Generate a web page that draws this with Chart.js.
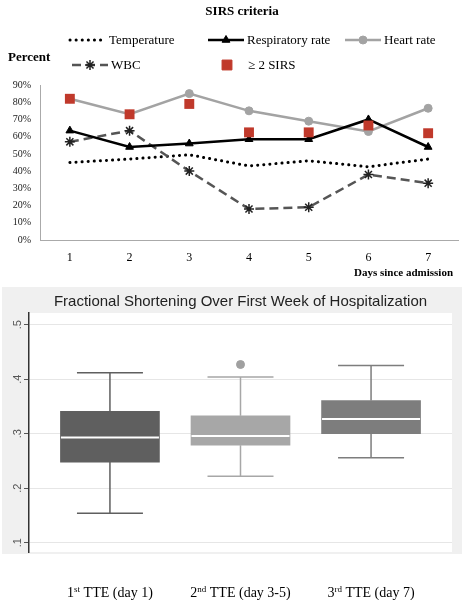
<!DOCTYPE html>
<html>
<head>
<meta charset="utf-8">
<script src="https://cdn.jsdelivr.net/npm/chart.js@4.4.1/dist/chart.umd.min.js"></script>
<style>
  html, body { margin: 0; padding: 0; background: #fff; }
  .panel { position: relative; width: 465px; }
  canvas { display: block; }
</style>
</head>
<body>
<div class="panel" style="height:280px"><canvas id="sirsChart" width="465" height="280"></canvas></div>
<div class="panel" style="height:320px"><canvas id="fsChart" width="465" height="320"></canvas></div>
<script>
// SIRS criteria (percent of patients per day)
const days = ['1', '2', '3', '4', '5', '6', '7'];
const temperature = [45, 47, 49.5, 43, 46, 42.5, 47];
const respiratoryRate = [63.5, 54, 56, 58.5, 58.5, 70, 54];
const heartRate = [82, 73, 85, 75, 69, 63, 76.5];
const wbc = [57, 63.5, 40, 18, 19, 38, 33];
const sirsTwoOrMore = [82, 73, 79, 62.5, 62.5, 66.5, 62];
const percentTicks = [0, 10, 20, 30, 40, 50, 60, 70, 80, 90];

// Fractional shortening box plot
const tteOrdinal = ['1', '2', '3'];
const tteSuffix = ['st', 'nd', 'rd'];
const tteText = [' TTE (day 1)', ' TTE (day 3-5)', ' TTE (day 7)'];
const fsMin = [0.154, 0.222, 0.256];
const fsQ1 = [0.248, 0.279, 0.300];
const fsMedian = [0.293, 0.296, 0.327];
const fsQ3 = [0.341, 0.333, 0.361];
const fsMax = [0.412, 0.404, 0.425];
const fsOutliers = [[], [0.427], []];
const fsTicks = [0.1, 0.2, 0.3, 0.4, 0.5];
const boxColors = ['#5f5f5f', '#a7a7a7', '#7d7d7d'];

const serif = '"Liberation Serif", "Times New Roman", serif';
const sans = '"Liberation Sans", Arial, sans-serif';

// legend grid spots (dataset index -> sample start)
const legendSpots = [
    { index: 4, x: 70, y: 40 },
    { index: 1, x: 208, y: 40 },
    { index: 2, x: 345, y: 40 },
    { index: 3, x: 72, y: 65 },
    { index: 0, x: 209, y: 65 }
];

const sirsDecor = {
    id: 'sirsDecor',
    afterDraw(chart) {
        const ctx = chart.ctx;
        ctx.save();
        ctx.fillStyle = '#000';
        ctx.textBaseline = 'middle';
        ctx.font = 'bold 13px ' + serif;
        ctx.textAlign = 'center';
        ctx.fillText('SIRS criteria', 242, 12);
        ctx.textAlign = 'left';
        ctx.fillText('Percent', 8, 58);
        ctx.font = 'bold 11px ' + serif;
        ctx.textAlign = 'right';
        ctx.fillText('Days since admission', 453, 273);

        legendSpots.forEach(spot => {
            const ds = chart.data.datasets[spot.index];
            const w = 36;
            if (ds.showLine !== false) {
                ctx.save();
                ctx.setLineDash(ds.borderDash || []);
                ctx.lineCap = ds.borderCapStyle || 'butt';
                ctx.strokeStyle = ds.borderColor;
                ctx.lineWidth = ds.borderWidth;
                ctx.beginPath();
                ctx.moveTo(spot.x, spot.y);
                ctx.lineTo(spot.x + w, spot.y);
                ctx.stroke();
                ctx.restore();
            }
            if (ds.pointRadius > 0) {
                ctx.save();
                ctx.fillStyle = ds.pointBackgroundColor;
                ctx.strokeStyle = ds.pointBorderColor;
                ctx.lineWidth = ds.pointBorderWidth || 1;
                Chart.helpers.drawPoint(ctx, {
                    pointStyle: ds.pointStyle,
                    radius: ds.pointRadius,
                    rotation: 0,
                    borderWidth: ds.pointBorderWidth || 1
                }, spot.x + w / 2, spot.y);
                ctx.restore();
            }
            ctx.fillStyle = '#000';
            ctx.font = '13px ' + serif;
            ctx.textAlign = 'left';
            ctx.fillText(ds.label, spot.x + w + 3, spot.y + 1);
        });
        ctx.restore();
    }
};

new Chart(document.getElementById('sirsChart'), {
    type: 'line',
    data: {
        labels: days,
        datasets: [
            {
                label: '\u2265 2 SIRS',
                data: sirsTwoOrMore,
                showLine: false,
                pointStyle: 'rect',
                pointRadius: 7,
                pointBackgroundColor: '#c0392b',
                pointBorderColor: '#c0392b',
                pointBorderWidth: 0,
                order: 0
            },
            {
                label: 'Respiratory rate',
                data: respiratoryRate,
                borderColor: '#000',
                borderWidth: 2.5,
                pointStyle: 'triangle',
                pointRadius: 4.5,
                pointBackgroundColor: '#000',
                pointBorderColor: '#000',
                pointBorderWidth: 1,
                order: 1
            },
            {
                label: 'Heart rate',
                data: heartRate,
                borderColor: '#a3a3a3',
                borderWidth: 2.5,
                pointStyle: 'circle',
                pointRadius: 4,
                pointBackgroundColor: '#a3a3a3',
                pointBorderColor: '#a3a3a3',
                pointBorderWidth: 1,
                order: 2
            },
            {
                label: 'WBC',
                data: wbc,
                borderColor: '#555',
                borderWidth: 2.5,
                borderDash: [9, 5],
                pointStyle: 'star',
                pointRadius: 5,
                pointBackgroundColor: '#222',
                pointBorderColor: '#222',
                pointBorderWidth: 1.5,
                order: 3
            },
            {
                label: 'Temperature',
                data: temperature,
                borderColor: '#000',
                borderWidth: 3,
                borderDash: [0.1, 6],
                borderCapStyle: 'round',
                pointRadius: 0,
                order: 4
            }
        ]
    },
    options: {
        responsive: false,
        animation: false,
        layout: { padding: { top: 85, right: 2, left: 0, bottom: 0 } },
        plugins: { legend: { display: false }, tooltip: { enabled: false }, title: { display: false } },
        scales: {
            x: {
                offset: true,
                afterFit: s => { s.height = 40; },
                grid: { display: false, drawTicks: false },
                border: { color: '#aaa', width: 1 },
                ticks: { padding: 11, color: '#000', font: { family: serif, size: 12 } }
            },
            y: {
                min: 0,
                max: 90,
                afterFit: s => { s.width = 40; },
                afterBuildTicks: s => { s.ticks = percentTicks.map(v => ({ value: v })); },
                grid: { display: false, drawTicks: false },
                border: { color: '#aaa', width: 1 },
                ticks: { padding: 9, color: '#222', font: { family: serif, size: 10 }, callback: v => v + '%' }
            }
        }
    },
    plugins: [sirsDecor]
});

const boxDecor = {
    id: 'boxDecor',
    beforeDraw(chart) {
        const { ctx, chartArea } = chart;
        ctx.save();
        ctx.fillStyle = '#f0f0f0';
        ctx.fillRect(2, 7, 460, 267);
        ctx.fillStyle = '#fff';
        ctx.fillRect(chartArea.left, chartArea.top, chartArea.right - chartArea.left, chartArea.bottom - chartArea.top);
        ctx.restore();
    },
    afterDatasetsDraw(chart) {
        const { ctx, scales: { x, y } } = chart;
        ctx.save();
        fsMedian.forEach((m, i) => {
            const cx = x.getPixelForValue(i + 1);
            ctx.strokeStyle = boxColors[i];
            ctx.lineWidth = 1.5;
            ctx.beginPath();
            ctx.moveTo(cx, y.getPixelForValue(fsQ3[i]));
            ctx.lineTo(cx, y.getPixelForValue(fsMax[i]));
            ctx.moveTo(cx, y.getPixelForValue(fsQ1[i]));
            ctx.lineTo(cx, y.getPixelForValue(fsMin[i]));
            ctx.moveTo(cx - 33, y.getPixelForValue(fsMax[i]));
            ctx.lineTo(cx + 33, y.getPixelForValue(fsMax[i]));
            ctx.moveTo(cx - 33, y.getPixelForValue(fsMin[i]));
            ctx.lineTo(cx + 33, y.getPixelForValue(fsMin[i]));
            ctx.stroke();
            ctx.strokeStyle = '#fff';
            ctx.lineWidth = 2;
            ctx.beginPath();
            ctx.moveTo(cx - 49, y.getPixelForValue(m));
            ctx.lineTo(cx + 49, y.getPixelForValue(m));
            ctx.stroke();
        });
        ctx.restore();
    },
    afterDraw(chart) {
        const { ctx, chartArea, scales: { x } } = chart;
        ctx.save();
        ctx.fillStyle = '#222';
        ctx.font = '15px ' + sans;
        ctx.textAlign = 'center';
        ctx.textBaseline = 'middle';
        ctx.fillText('Fractional Shortening Over First Week of Hospitalization', (chartArea.left + chartArea.right) / 2, 22);

        ctx.fillStyle = '#000';
        ctx.textBaseline = 'alphabetic';
        ctx.textAlign = 'left';
        const base = 317;
        tteOrdinal.forEach((ord, i) => {
            const bigFont = '14px ' + serif;
            const smallFont = '9px ' + serif;
            ctx.font = bigFont;
            const w1 = ctx.measureText(ord).width;
            const w3 = ctx.measureText(tteText[i]).width;
            ctx.font = smallFont;
            const w2 = ctx.measureText(tteSuffix[i]).width;
            let left = x.getPixelForValue(i + 1) - (w1 + w2 + w3) / 2;
            ctx.font = bigFont;
            ctx.fillText(ord, left, base);
            ctx.font = smallFont;
            ctx.fillText(tteSuffix[i], left + w1, base - 5);
            ctx.font = bigFont;
            ctx.fillText(tteText[i], left + w1 + w2, base);
        });
        ctx.restore();
    }
};

new Chart(document.getElementById('fsChart'), {
    type: 'bar',
    data: {
        datasets: [
            {
                label: 'Box',
                data: fsQ1.map((q, i) => ({ x: i + 1, y: [q, fsQ3[i]] })),
                backgroundColor: boxColors,
                borderWidth: 0,
                barThickness: 99,
                order: 1
            },
            {
                type: 'scatter',
                label: 'Outliers',
                data: fsOutliers.flatMap((list, i) => list.map(v => ({ x: i + 1, y: v }))),
                pointStyle: 'circle',
                pointRadius: 4,
                pointBackgroundColor: '#a0a0a0',
                pointBorderColor: '#a0a0a0',
                order: 0
            }
        ]
    },
    options: {
        responsive: false,
        animation: false,
        layout: { padding: { top: 33, right: 13, bottom: 48, left: 0 } },
        plugins: { legend: { display: false }, tooltip: { enabled: false } },
        scales: {
            x: { type: 'linear', min: 0.38, max: 3.62, offset: false, display: false },
            y: {
                min: 0.083,
                max: 0.5215,
                afterFit: s => { s.width = 29; },
                afterBuildTicks: s => { s.ticks = fsTicks.map(v => ({ value: v })); },
                border: { color: '#333', width: 1.5 },
                grid: { color: '#e6e6e6', tickColor: '#555', tickLength: 5 },
                ticks: {
                    minRotation: 90,
                    maxRotation: 90,
                    crossAlign: 'center',
                    padding: 1,
                    color: '#555',
                    font: { family: sans, size: 11 },
                    callback: v => '.' + Math.round(v * 10)
                }
            }
        }
    },
    plugins: [boxDecor]
});
</script>
</body>
</html>
